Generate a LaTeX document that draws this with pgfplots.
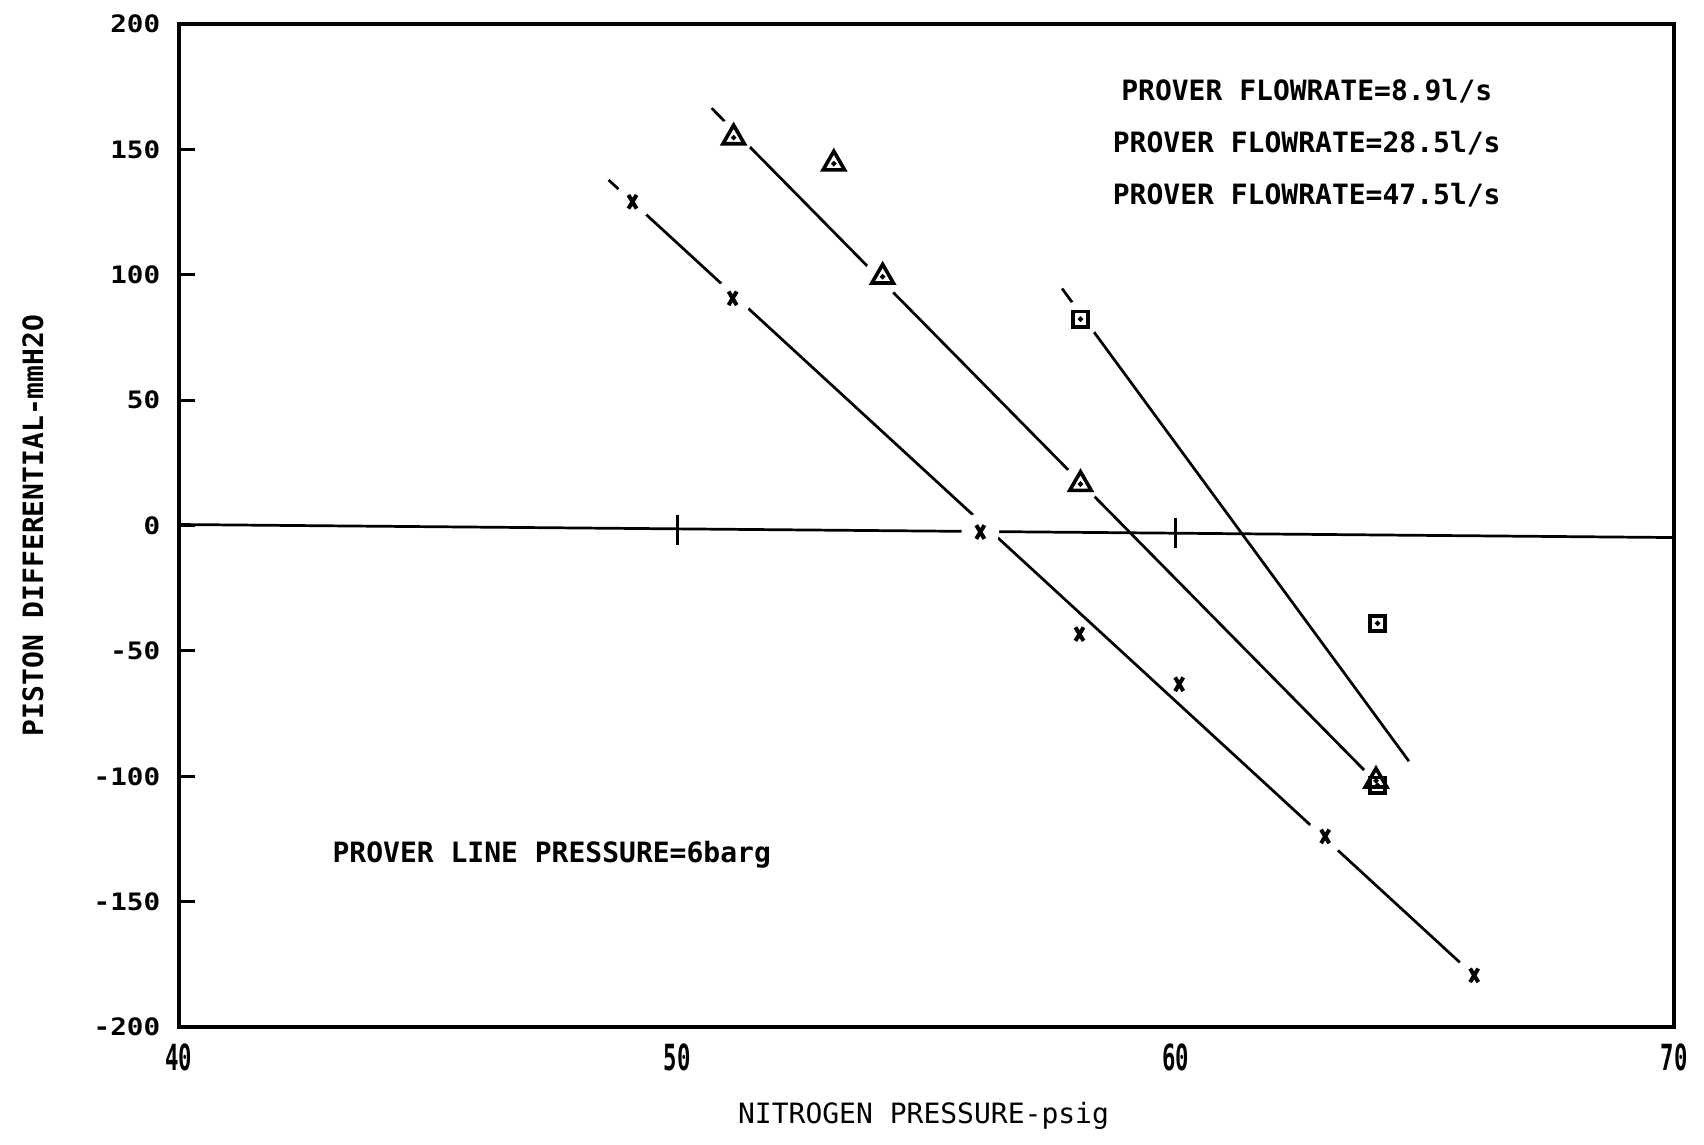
\documentclass[border=0pt]{standalone}
\usepackage{fontspec}
\setmainfont{DejaVu Sans Mono}
\newfontfamily\ytfont{DejaVu Sans Mono}[FakeStretch=1.15]
\newfontfamily\xtfont{DejaVu Sans Mono}[FakeStretch=0.62]
\usepackage{pgfplots}
\usepackage{pgfplotstable}
\pgfplotsset{compat=1.18}

% 8.9 l/s (crosses)
\pgfplotstableread{
x y
49.10 129.1
51.11 90.6
56.08 -2.6
58.07 -43.3
60.07 -63.3
63.00 -124.0
65.99 -179.4
}\crossdata
% 28.5 l/s (triangles)
\pgfplotstableread{
x y
51.13 154.7
53.14 144.3
54.12 99.2
58.09 16.5
64.02 -101.8
}\tridata
% 47.5 l/s (squares)
\pgfplotstableread{
x y
58.09 82.3
64.05 -39.0
64.05 -103.6
}\sqdata
% fitted lines
\pgfplotstableread{
x y
48.62 137.8
65.70 -174.2
}\crossfit
\pgfplotstableread{
x y
50.69 166.4
63.78 -97.5
}\trifit
\pgfplotstableread{
x y
57.72 94.5
64.68 -94.0
}\sqfit
% points lying on the fitted lines (gaps in the lines)
\pgfplotstableread{
x y
49.10 129.1
51.11 90.6
56.08 -2.6
63.00 -124.0
51.13 154.7
54.12 99.2
58.09 16.5
58.09 82.3
}\gapdata

\begin{document}
\begin{tikzpicture}
\begin{axis}[
  scale only axis,
  width=373.75pt, height=250.75pt,
  xmin=40, xmax=70, ymin=-200, ymax=200,
  xtick={40,50,60,70},
  ytick={-200,-150,...,200},
  axis line style={line width=0.9pt},
  x tick style={draw=none},
  y tick style={line width=0.8pt, black},
  tick align=inside,
  ytick pos=left,
  major tick length=4pt,
  /pgf/number format/assume math mode=true,
  xticklabel style={font=\xtfont\bfseries\fontsize{9}{10}\selectfont, inner sep=0pt, anchor=north, yshift=-4pt},
  yticklabel style={font=\ytfont\bfseries\fontsize{6}{7}\selectfont, inner sep=0pt, anchor=east, xshift=-4.5pt},
  xlabel={NITROGEN PRESSURE-psig},
  ylabel={PISTON DIFFERENTIAL-mmH2O},
  xlabel style={font=\fontsize{7}{8}\selectfont, at={(axis description cs:0.498,0)}, anchor=center, yshift=-22.25pt},
  ylabel style={font=\bfseries\fontsize{7}{8}\selectfont, at={(axis description cs:-0.0977,0.5)}, anchor=center},
]
% fitted lines
\addplot[black, line width=0.68pt] table {\crossfit};
\addplot[black, line width=0.68pt] table {\trifit};
\addplot[black, line width=0.68pt] table {\sqfit};
% gaps around markers
\addplot[only marks, mark=*, mark size=4.5pt, mark options={draw=white, fill=white}] table {\gapdata};
% zero line with its ticks
\addplot[black, line width=0.68pt] coordinates {(40,0.4) (70,-4.8)};
\addplot[only marks, mark=|, mark size=3.75pt, mark options={line width=0.8pt, black}] coordinates {(50,-1.7) (60,-3.0)};
% markers
\addplot[only marks, mark=x, mark size=2.4pt, mark options={xscale=0.6, line width=1pt, black}] table {\crossdata};
\addplot[only marks, mark=triangle, mark size=3.1pt, mark options={line width=0.9pt, black, fill=white}] table {\tridata};
\addplot[only marks, mark=*, mark size=0.45pt, black] table {\tridata};
\addplot[only marks, mark=square, mark size=1.9pt, mark options={line width=0.9pt, black, fill=white}] table {\sqdata};
\addplot[only marks, mark=*, mark size=0.45pt, black] table {\sqdata};
% annotations
\node[font=\bfseries\fontsize{7}{8}\selectfont] at (axis cs:62.63,173.3) {PROVER FLOWRATE=8.9l/s};
\node[font=\bfseries\fontsize{7}{8}\selectfont] at (axis cs:62.63,152.5) {PROVER FLOWRATE=28.5l/s};
\node[font=\bfseries\fontsize{7}{8}\selectfont] at (axis cs:62.63,131.7) {PROVER FLOWRATE=47.5l/s};
\node[font=\bfseries\fontsize{7}{8}\selectfont] at (axis cs:47.48,-131.3) {PROVER LINE PRESSURE=6barg};
\end{axis}
\pgfresetboundingbox
\useasboundingbox ([shift={(-44.75pt,-29.25pt)}]current axis.south west) rectangle ([shift={(7.5pt,6pt)}]current axis.north east);
\end{tikzpicture}
\end{document}
